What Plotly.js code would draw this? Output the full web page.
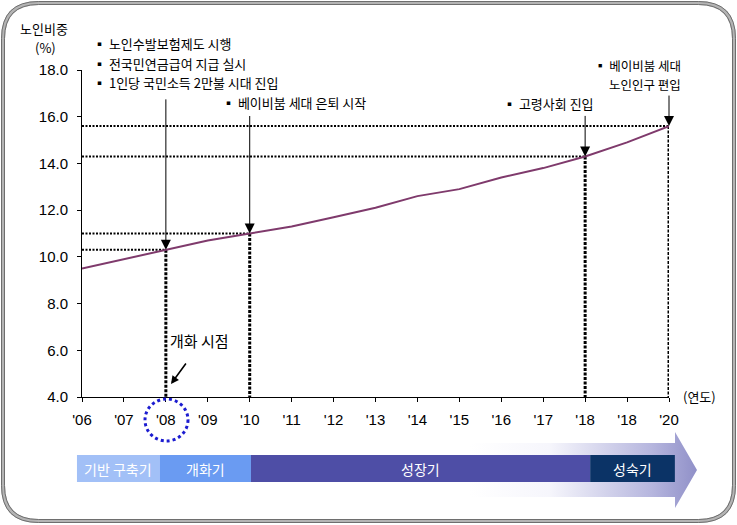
<!DOCTYPE html>
<html>
<head>
<meta charset="utf-8">
<script src="https://cdn.plot.ly/plotly-3.0.1.min.js"></script>
<style>html,body{margin:0;padding:0;background:#fff;}#chart{width:737px;height:525px;}</style>
</head>
<body>
<div id="chart"></div>
<script>
// ---- data ----
const years = ["'06","'07","'08","'09","'10","'11","'12","'13","'14","'15","'16","'17","'18","'18","'20"];
const elderlyShare = [9.5, 9.9, 10.3, 10.7, 11.0, 11.3, 11.7, 12.1, 12.6, 12.9, 13.4, 13.8, 14.3, 14.9, 15.6];
const eventIdx = [2, 4, 12, 14];
const yTicks = [4, 6, 8, 10, 12, 14, 16, 18];
const stageNames = ['기반 구축기', '개화기', '성장기', '성숙기'];
const stageStart = [-0.12, 1.86, 4.03, 12.12];
const stageEnd = [1.86, 4.03, 12.12, 14.14];
const stageColors = ['#a2c0f7', '#6a9bf2', '#4e4ea6', '#0b3366'];

// ---- layout geometry ----
const W = 737, H = 525;
const plotL = 82, plotR = 669, plotT = 70, plotB = 397;
const unit = (plotR - plotL) / (years.length - 1);
const PX = p => p / W;
const PY = p => 1 - p / H;
const X2 = p => (p - plotL) / unit;
const xIdx = years.map((_, i) => i);

function roundRect(l, t, r, b, rad) {
  const P = (x, y) => PX(x) + ',' + PY(y);
  return 'M' + P(l + rad, t) + ' L' + P(r - rad, t) + ' Q' + P(r, t) + ' ' + P(r, t + rad) +
    ' L' + P(r, b - rad) + ' Q' + P(r, b) + ' ' + P(r - rad, b) +
    ' L' + P(l + rad, b) + ' Q' + P(l, b) + ' ' + P(l, b - rad) +
    ' L' + P(l, t + rad) + ' Q' + P(l, t) + ' ' + P(l + rad, t) + ' Z';
}

const traces = [
  {
    x: xIdx, y: elderlyShare, type: 'scatter', mode: 'lines',
    line: {color: '#7f3a6c', width: 2}, hoverinfo: 'skip', xaxis: 'x', yaxis: 'y'
  },
  {
    x: [470, 675, 675, 697, 675, 675, 470, 470].map(X2),
    y: [443, 443, 432, 470, 508, 497, 497, 443],
    type: 'scatter', mode: 'lines', line: {width: 0}, fill: 'toself',
    fillcolor: '#b8b8e0',
    fillgradient: {type: 'horizontal',
      colorscale: [[0, 'rgba(255,255,255,1)'], [0.35, '#f6f6fc'], [0.8, '#b6b6de'], [1, '#9090c8']]},
    hoverinfo: 'skip', xaxis: 'x2', yaxis: 'y2'
  }
];

const shapes = [];
// frame
shapes.push({type: 'path', xref: 'paper', yref: 'paper', path: roundRect(3, 3, 734, 521, 36), line: {color: '#b4b4b4', width: 4}, layer: 'above'});
shapes.push({type: 'path', xref: 'paper', yref: 'paper', path: roundRect(1.5, 1.5, 735.5, 522.5, 37), line: {color: '#6e6e6e', width: 1}, layer: 'above'});
shapes.push({type: 'path', xref: 'paper', yref: 'paper', path: roundRect(4.5, 4.5, 732.5, 519.5, 34), line: {color: '#6e6e6e', width: 1}, layer: 'above'});

// dotted guide lines
eventIdx.forEach(i => {
  shapes.push({type: 'line', xref: 'x', yref: 'y', x0: 0, x1: i, y0: elderlyShare[i], y1: elderlyShare[i],
    line: {color: '#000', width: 2, dash: '2px,1.5px'}, layer: 'below'});
  shapes.push({type: 'line', xref: 'x', yref: 'y', x0: i, x1: i, y0: elderlyShare[i], y1: 4,
    line: {color: '#000', width: 3, dash: '3px,1.5px'}, layer: 'below'});
});

// stage bands
stageNames.forEach((n, i) => {
  shapes.push({type: 'rect', xref: 'x2', yref: 'y2', x0: stageStart[i], x1: stageEnd[i], y0: 455, y1: 482,
    fillcolor: stageColors[i], line: {width: 0}, layer: 'above'});
});

// blue dotted circle round '08
shapes.push({type: 'circle', xref: 'paper', yref: 'paper', x0: PX(145), x1: PX(188), y0: PY(441), y1: PY(399),
  line: {color: '#1c1cd0', width: 3, dash: 'dot'}, layer: 'above'});

const txtFont = {family: 'Noto Sans CJK KR', size: 13, color: '#000'};
const annotations = [];
const txt = (text, x, y, xanchor, extra) => Object.assign({
  text: text, xref: 'paper', yref: 'paper', x: PX(x), y: PY(y), xanchor: xanchor, yanchor: 'middle',
  showarrow: false, font: txtFont, align: xanchor === 'right' ? 'right' : 'left'
}, extra || {});
const smallFont = {family: 'Noto Sans CJK KR', size: 12.5, color: '#000'};

annotations.push(txt('노인비중', 44, 29, 'center', {align: 'center'}));
annotations.push(txt('(%)', 45, 48, 'center', {align: 'center'}));
annotations.push(txt('▪ 노인수발보험제도 시행', 91, 44, 'left'));
annotations.push(txt('▪ 전국민연금급여 지급 실시', 91, 63, 'left'));
annotations.push(txt('▪ 1인당 국민소득 2만불 시대 진입', 91, 82, 'left'));
annotations.push(txt('▪ 베이비붐 세대 은퇴 시작', 220, 102, 'left'));
annotations.push(txt('▪ 고령사회 진입', 501, 103, 'left'));
annotations.push(txt('▪ 베이비붐 세대', 683, 65.5, 'right', {font: smallFont}));
annotations.push(txt('노인인구 편입', 683, 84.5, 'right', {font: smallFont}));
annotations.push(txt('개화 시점', 168, 340, 'left', {font: {family: 'Noto Sans CJK KR', size: 15, color: '#000'}}));
annotations.push(txt('(연도)', 681, 396, 'left'));

// event arrows
const arrowTail = [-152, -119, -42, -32];
eventIdx.forEach((i, k) => {
  annotations.push({text: '', xref: 'x', yref: 'y', x: i, y: elderlyShare[i], showarrow: true,
    ax: 0, ay: arrowTail[k], arrowhead: 2, arrowsize: 2, arrowwidth: 1, arrowcolor: '#000', standoff: 0});
});
// 개화 시점 arrow
annotations.push({text: '', xref: 'paper', yref: 'paper', x: PX(171), y: PY(384), showarrow: true,
  ax: 16, ay: -22, arrowhead: 2, arrowsize: 1, arrowwidth: 1.6, arrowcolor: '#000', standoff: 0});

// stage labels
stageNames.forEach((n, i) => {
  annotations.push({text: n, xref: 'x2', yref: 'y2', x: (stageStart[i] + stageEnd[i]) / 2, y: 468.5,
    showarrow: false, font: {family: 'Noto Sans CJK KR', size: 14, color: '#fff'}});
});

const tickFont = {family: 'Liberation Sans', size: 15, color: '#000'};
const layout = {
  width: W, height: H, autosize: false,
  margin: {l: 0, r: 0, t: 0, b: 0},
  paper_bgcolor: '#fff', plot_bgcolor: 'rgba(0,0,0,0)',
  showlegend: false,
  font: txtFont,
  xaxis: {
    domain: [PX(plotL), PX(plotR)], anchor: 'y', range: [0, years.length - 1],
    tickmode: 'array', tickvals: xIdx, ticktext: years, ticks: 'outside', ticklen: 4, tickcolor: '#000',
    showline: true, linecolor: '#000', linewidth: 1, showgrid: false, zeroline: false,
    tickfont: tickFont, ticklabelstandoff: 5, fixedrange: true
  },
  yaxis: {
    domain: [PY(plotB), PY(plotT)], anchor: 'x', range: [4, 18],
    tickmode: 'array', tickvals: yTicks, ticktext: yTicks.map(v => v.toFixed(1)),
    ticks: 'outside', ticklen: 4, tickcolor: '#000',
    showline: true, linecolor: '#000', linewidth: 1, showgrid: false, zeroline: false,
    tickfont: tickFont, ticklabelstandoff: 6, fixedrange: true
  },
  xaxis2: {domain: [0, 1], anchor: 'y2', range: [X2(0), X2(W)], visible: false, fixedrange: true},
  yaxis2: {domain: [0, 1], anchor: 'x2', range: [H, 0], visible: false, fixedrange: true},
  shapes: shapes,
  annotations: annotations
};

Plotly.newPlot('chart', traces, layout, {displayModeBar: false, staticPlot: true});
</script>
</body>
</html>
